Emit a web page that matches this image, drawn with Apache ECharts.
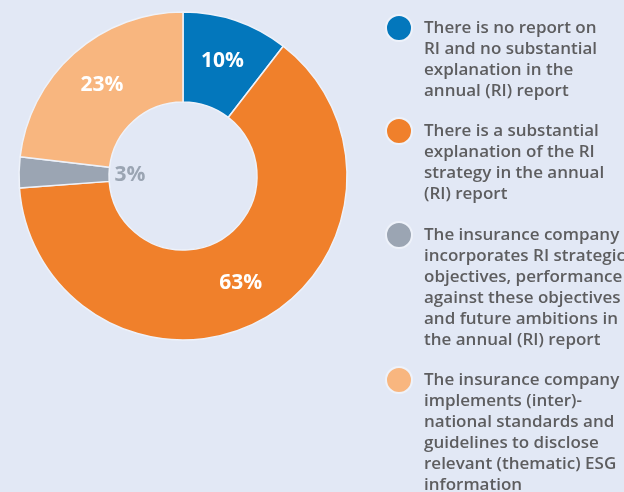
<!DOCTYPE html>
<html>
<head>
<meta charset="utf-8">
<script src="https://cdn.jsdelivr.net/npm/echarts@6/dist/echarts.min.js"></script>
<style>
    html, body { margin: 0; padding: 0; background: #e2e8f5; }
    #chart { width: 624px; height: 492px; }
</style>
</head>
<body>
<div id="chart"></div>
<script>
// Categories (legend text, already wrapped as in the report)
const categories = [
    'There is no report on\nRI and no substantial\nexplanation in the\nannual (RI) report',
    'There is a substantial\nexplanation of the RI\nstrategy in the annual\n(RI) report',
    'The insurance company\nincorporates RI strategic\nobjectives, performance\nagainst these objectives\nand future ambitions in\nthe annual (RI) report',
    'The insurance company\nimplements (inter)-\nnational standards and\nguidelines to disclose\nrelevant (thematic) ESG\ninformation'
];
// Share of insurers, %
const shares = [10.4, 63, 3, 23];
const colors = ['#0377bc', '#f0802b', '#9ba5b3', '#f8b67f'];

const LINE_H = 21;
const iconCenters = [28, 131, 235, 380];

const chart = echarts.init(document.getElementById('chart'));

const pieData = categories.map((name, i) => ({
    name: name,
    value: shares[i],
    itemStyle: { color: colors[i] },
    label: { show: i !== 2 }
}));

// the small grey slice has its label inside the hole
const holeData = categories.map((name, i) => ({
    name: name,
    value: shares[i],
    label: { show: i === 2 }
}));

// one legend per item; blank lines in front keep the dot on the first text line
const legends = categories.map((name, i) => {
    const n = name.split('\n').length;
    return {
        left: 385,
        top: iconCenters[i] - (2 * n - 1) * LINE_H / 2,
        padding: 0,
        orient: 'vertical',
        icon: 'circle',
        itemWidth: 26,
        itemHeight: 26,
        selectedMode: false,
        data: [name],
        formatter: label => '\n'.repeat(n - 1) + label,
        textStyle: {
            color: '#5d5d5f',
            fontFamily: 'Open Sans',
            fontWeight: 600,
            fontSize: 17,
            lineHeight: LINE_H,
            padding: [0, 0, 0, 7]
        }
    };
});

const option = {
    backgroundColor: '#e2e8f5',
    color: colors,
    legend: legends,
    series: [
        {
            type: 'pie',
            center: [183, 176],
            radius: [74, 164],
            startAngle: 90,
            clockwise: true,
            avoidLabelOverlap: false,
            animation: false,
            data: pieData,
            itemStyle: { borderColor: '#eef2fa', borderWidth: 1.5 },
            label: {
                position: 'inside',
                formatter: p => Math.round(p.value) + '%',
                color: '#ffffff',
                fontFamily: 'Open Sans',
                fontWeight: 'bold',
                fontSize: 21
            },
            labelLine: { show: false }
        },
        {
            type: 'pie',
            center: [183, 176],
            radius: [0, 100],
            startAngle: 90,
            clockwise: true,
            silent: true,
            avoidLabelOverlap: false,
            animation: false,
            data: holeData,
            itemStyle: { color: 'rgba(0,0,0,0)' },
            label: {
                position: 'inside',
                formatter: p => Math.round(p.value) + '%',
                color: '#9ba5b3',
                fontFamily: 'Open Sans',
                fontWeight: 'bold',
                fontSize: 21
            },
            labelLine: { show: false }
        }
    ]
};

chart.setOption(option);
</script>
</body>
</html>
